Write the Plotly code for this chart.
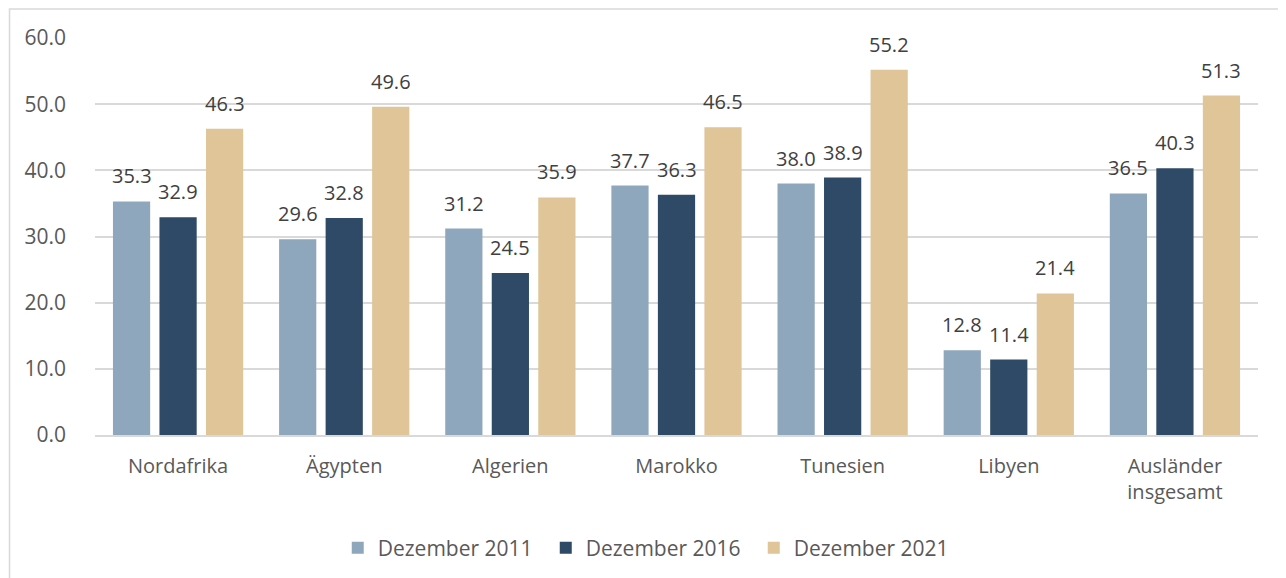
import plotly.graph_objects as go

categories = ["Nordafrika", "Ägypten", "Algerien", "Marokko", "Tunesien", "Libyen", "Ausländer<br>insgesamt"]
series_names = ["Dezember 2011", "Dezember 2016", "Dezember 2021"]
v2011 = [35.3, 29.6, 31.2, 37.7, 38.0, 12.8, 36.5]
v2016 = [32.9, 32.8, 24.5, 36.3, 38.9, 11.4, 40.3]
v2021 = [46.3, 49.6, 35.9, 46.5, 55.2, 21.4, 51.3]
y_ticks = [0, 10, 20, 30, 40, 50, 60]

colors = ["#8FA7BD", "#2E4A66", "#DFC597"]
font_fam = "Open Sans, Liberation Sans, sans-serif"
txt_col = "#595959"
lbl_col = "#404040"

W, H = 1286, 578
ML, MR, MT, MB = 87, 36, 30, 151
BARGAP, GROUPGAP = 0.16, 0.2
plot_w = W - ML - MR
slot = plot_w / len(categories) * (1 - BARGAP) / 3

fig = go.Figure()
annotations = []
for i, (name, vals, col) in enumerate(zip(series_names, [v2011, v2016, v2021], colors)):
    fig.add_trace(go.Bar(
        x=categories, y=vals, name=name, marker=dict(color=col, line=dict(width=0)),
    ))
    for c, v in zip(categories, vals):
        annotations.append(dict(
            x=c, y=v, xref="x", yref="y", text=f"{v:.1f}", showarrow=False,
            xanchor="center", yanchor="bottom", xshift=(i - 1) * slot, yshift=10,
            font=dict(family=font_fam, size=20, color=lbl_col),
        ))

fig.update_layout(
    width=W, height=H,
    margin=dict(l=ML, r=MR, t=MT, b=MB),
    paper_bgcolor="white", plot_bgcolor="white",
    barmode="group", bargap=BARGAP, bargroupgap=GROUPGAP,
    font=dict(family=font_fam, color=txt_col),
    showlegend=True,
    legend=dict(orientation="h", x=0.477, xanchor="center", y=-0.233, yanchor="top",
                font=dict(family=font_fam, size=21, color=txt_col),
                traceorder="normal", itemwidth=30, entrywidth=163, entrywidthmode="pixels"),
    xaxis=dict(showgrid=False, showline=True, linecolor="#D9D9D9", linewidth=1.5,
               tickfont=dict(family=font_fam, size=20, color=txt_col),
               ticks="", ticklabelstandoff=12),
    yaxis=dict(range=[0, 60], tickvals=y_ticks, ticktext=[f"{t:.1f}" for t in y_ticks],
               showgrid=True, gridcolor="#D9D9D9", gridwidth=1.5, zeroline=False,
               tickfont=dict(family=font_fam, size=21, color=txt_col),
               ticks="", ticklabelstandoff=28, showline=False),
    annotations=annotations,
    shapes=[dict(type="rect", xref="paper", yref="paper",
                 x0=-0.0735, x1=1.05, y0=-0.4, y1=1.073,
                 line=dict(color="#D9D9D9", width=1.5), fillcolor="rgba(0,0,0,0)", layer="below")],
)

fig.write_html("out.html")
